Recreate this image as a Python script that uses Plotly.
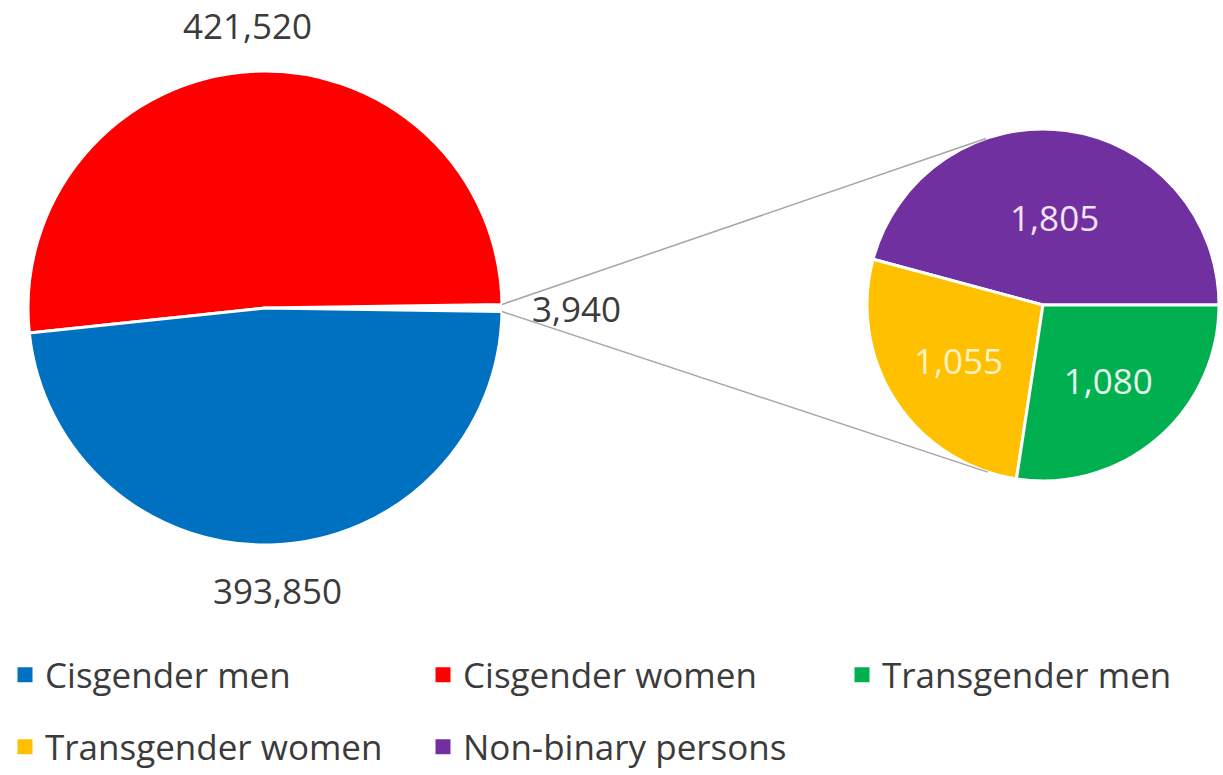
import math
import plotly.graph_objects as go

# ---------------- data ----------------
main_labels = ["Other", "Cisgender women", "Cisgender men"]
main_values = [3940, 421520, 393850]

sub_labels = ["Non-binary persons", "Transgender women", "Transgender men"]
sub_values = [1805, 1055, 1080]

legend_names = ["Cisgender men", "Cisgender women", "Transgender men",
                "Transgender women", "Non-binary persons"]

# ---------------- styles ----------------
W, H = 1223, 775
FONT = "Open Sans"
TXT = "#3b3b3b"
LBL_SIZE = 35
colors = {
    "Cisgender men": "#0070C0",
    "Cisgender women": "#FF0000",
    "Transgender men": "#00B050",
    "Transgender women": "#FFC000",
    "Non-binary persons": "#7030A0",
    "Other": "#FFFFFF",
}
sub_text_colors = ["#F3E2F5", "#FFF3C4", "#E6F7EC"]

# geometry (pixels)
cx1, cy1, r1 = 265, 308, 237
cx2, cy2, r2 = 1043, 305, 176


def dom(cx, cy, r):
    return dict(x=[(cx - r) / W, (cx + r) / W], y=[1 - (cy + r) / H, 1 - (cy - r) / H])


main_total = sum(main_values)
half = 360 * main_values[0] / main_total / 2
sub_total = sum(sub_values)

fig = go.Figure()

fig.add_trace(go.Pie(
    labels=main_labels, values=main_values, sort=False,
    direction="counterclockwise", rotation=90 - half,
    marker=dict(colors=[colors[l] for l in main_labels], line=dict(color="white", width=3)),
    textinfo="none",
    domain=dom(cx1, cy1, r1), showlegend=False, hoverinfo="label+value",
))

fig.add_trace(go.Pie(
    labels=sub_labels, values=sub_values, sort=False,
    direction="counterclockwise", rotation=90 - 360 * sub_values[0] / sub_total,
    marker=dict(colors=[colors[l] for l in sub_labels], line=dict(color="white", width=3)),
    texttemplate="%{value:,}", textposition="inside", insidetextorientation="horizontal",
    insidetextfont=dict(family=FONT, size=LBL_SIZE, color=sub_text_colors),
    domain=dom(cx2, cy2, r2), showlegend=False, hoverinfo="label+value",
))

# outside value labels of the main pie, centred on each slice's mid-angle ray
annotations = []
angles = []
acc = -half
for v in main_values:
    span = 360 * v / main_total
    angles.append(acc + span / 2)
    acc += span
GAP = 30
for v, mid in zip(main_values, angles):
    txt = f"{v:,}"
    tw = (len(txt) - 1) * 0.571 * LBL_SIZE + 0.25 * LBL_SIZE
    th = 0.72 * LBL_SIZE
    c, s = math.cos(math.radians(mid)), math.sin(math.radians(mid))
    ext = abs(c) * tw / 2 + abs(s) * th / 2
    dist = r1 + GAP + ext
    ax, ay = cx1 + dist * c, cy1 - dist * s
    annotations.append(dict(
        x=ax / W, y=1 - ay / H, xref="paper", yref="paper", text=txt, showarrow=False,
        xanchor="center", yanchor="middle",
        font=dict(family=FONT, size=LBL_SIZE, color=TXT),
    ))

# connector lines: from the edges of the small slice to tangent points of the second pie
shapes = []
for sgn in (1, -1):
    a = math.radians(half) * sgn
    px, py = cx1 + r1 * math.cos(a), cy1 - r1 * math.sin(a)
    dx, dy = px - cx2, py - cy2
    d = math.hypot(dx, dy)
    base = math.atan2(dy, dx)
    beta = math.acos(r2 / d)
    cands = [(cx2 + r2 * math.cos(base + k * beta), cy2 + r2 * math.sin(base + k * beta)) for k in (1, -1)]
    tx, ty = min(cands, key=lambda p: p[1]) if sgn == 1 else max(cands, key=lambda p: p[1])
    shapes.append(dict(type="line", xref="paper", yref="paper",
                       x0=px / W, y0=1 - py / H, x1=tx / W, y1=1 - ty / H,
                       line=dict(color="#A6A6A6", width=1.5)))

# legend: one legend per entry, placed in Excel-like columns
legend_pos = [(25, 675), (443, 675), (862, 675), (25, 747), (443, 747)]
layout_legends = {}
for i, (name, (lx, ly)) in enumerate(zip(legend_names, legend_pos)):
    key = "legend" if i == 0 else f"legend{i + 1}"
    fig.add_trace(go.Scatter(
        x=[None], y=[None], mode="markers", name=name,
        marker=dict(symbol="square", size=15, color=colors[name]),
        legend=key, showlegend=True,
    ))
    layout_legends[key] = dict(
        x=(lx - 20) / W, y=1 - ly / H, xanchor="left", yanchor="middle",
        bgcolor="rgba(0,0,0,0)", borderwidth=0,
        font=dict(family=FONT, size=35, color=TXT),
        itemclick=False, itemdoubleclick=False,
    )

fig.update_layout(
    width=W, height=H,
    margin=dict(l=0, r=0, t=0, b=0, autoexpand=False),
    paper_bgcolor="white", plot_bgcolor="white",
    xaxis=dict(visible=False, range=[0, 1]),
    yaxis=dict(visible=False, range=[0, 1]),
    shapes=shapes,
    annotations=annotations,
    font=dict(family=FONT, color=TXT),
    **layout_legends,
)

fig.write_html("out.html", config={"displayModeBar": False},
               post_script="document.body.style.margin='0';")
